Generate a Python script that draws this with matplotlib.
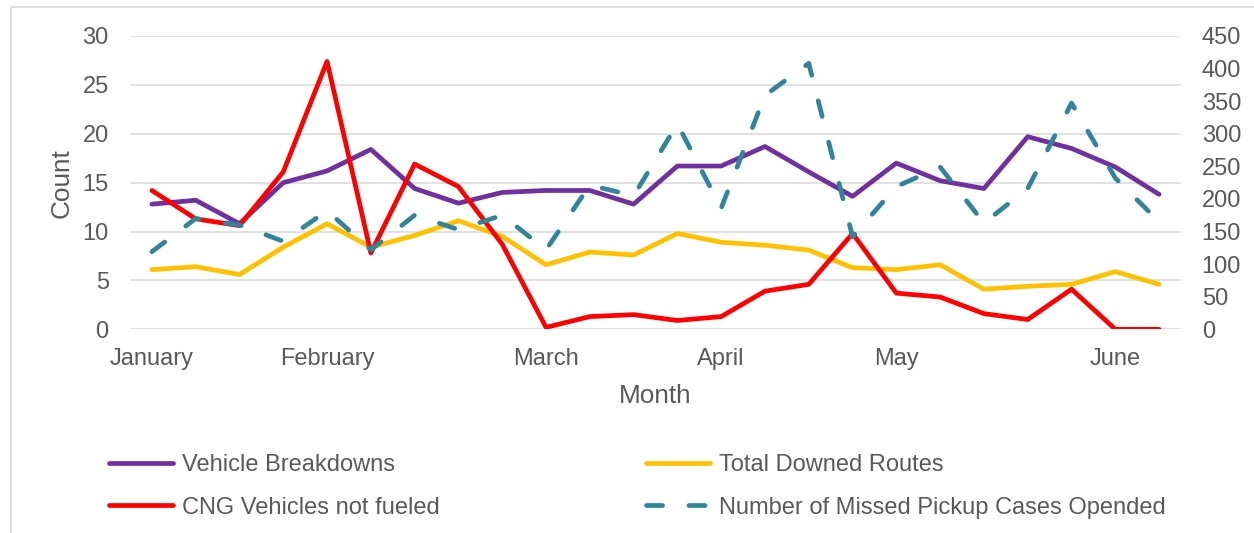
import matplotlib
matplotlib.use('Agg')
import matplotlib.pyplot as plt
from matplotlib.patches import Rectangle

plt.rcParams['font.family'] = ['Liberation Sans', 'DejaVu Sans']

# weekly points, month name on the first week of each month
week_labels = ['January', '', '', '', 'February', '', '', '', '', 'March', '', '', '',
               'April', '', '', '', 'May', '', '', '', '', 'June', '']

vehicle_breakdowns = [12.8, 13.2, 10.8, 15.0, 16.2, 18.4, 14.4, 12.9, 14.0, 14.2, 14.2, 12.8,
                      16.7, 16.7, 18.7, 16.1, 13.6, 17.0, 15.2, 14.4, 19.7, 18.5, 16.6, 13.8]
total_downed_routes = [6.1, 6.4, 5.6, 8.4, 10.8, 8.4, 9.6, 11.1, 9.5, 6.6, 7.9, 7.6,
                       9.8, 8.9, 8.6, 8.1, 6.3, 6.1, 6.6, 4.1, 4.4, 4.6, 5.9, 4.6]
cng_not_fueled = [14.2, 11.3, 10.6, 16.1, 27.4, 7.8, 16.9, 14.6, 8.7, 0.2, 1.3, 1.5,
                  0.9, 1.3, 3.9, 4.6, 9.8, 3.7, 3.3, 1.6, 1.0, 4.1, 0, 0]
missed_pickups = [119, 170, 160, 135, 182, 122, 175, 153, 175, 122, 221, 205,
                  315, 186, 359, 408, 142, 219, 249, 163, 216, 347, 232, 165]

TEXT = '#595959'
GRID = '#d9d9d9'
W, H = 1254, 533
LW = 3.4

fig = plt.figure(figsize=(W / 100, H / 100), dpi=100)
ax = fig.add_axes([130 / W, 1 - 329.3 / H, 1051 / W, 293.3 / H])
ax2 = ax.twinx()

x = list(range(len(week_labels)))
line_kw = dict(lw=LW, solid_capstyle='round', solid_joinstyle='round')
l1, = ax.plot(x, vehicle_breakdowns, color='#7030A0', **line_kw)
l2, = ax.plot(x, total_downed_routes, color='#FFC000', **line_kw)
l3, = ax.plot(x, cng_not_fueled, color='#FF0000', **line_kw)
l4, = ax2.plot(x, missed_pickups, color='#31849B', lw=LW, dashes=(3.4, 5.6),
               dash_capstyle='round', dash_joinstyle='round')

ax.set_xlim(-0.5, len(x) - 0.5)
ax.set_ylim(0, 30)
ax.set_yticks(range(0, 31, 5))
ax2.set_ylim(0, 450)
ax2.set_yticks(range(0, 451, 50))
ax.set_xticks(x, week_labels)

ax.yaxis.grid(True, color=GRID, lw=1.1)
ax.set_axisbelow(True)
for a in (ax, ax2):
    for s in a.spines.values():
        s.set_visible(False)
ax.tick_params(axis='y', length=0, pad=15.3, labelsize=17, labelcolor=TEXT)
ax.tick_params(axis='x', length=0, pad=13.7, labelsize=17, labelcolor=TEXT)
ax2.tick_params(axis='y', length=0, pad=14.9, labelsize=17, labelcolor=TEXT)

ax.set_xlabel('Month', fontsize=18.8, color=TEXT)
ax.xaxis.set_label_coords(0.5, -0.1865)
ax.set_ylabel('Count', fontsize=18.8, color=TEXT)
ax.yaxis.set_label_coords(-0.0538, 0.5)

leg_kw = dict(loc='upper left', frameon=False, fontsize=17, handlelength=2.75,
              handletextpad=0.38, labelspacing=0.87, borderpad=0, borderaxespad=0,
              labelcolor=TEXT)
fig.legend([l1, l3], ['Vehicle Breakdowns', 'CNG Vehicles not fueled'],
           bbox_to_anchor=(108.5 / W, 1 - 454 / H), **leg_kw)
fig.legend([l2, l4], ['Total Downed Routes', 'Number of Missed Pickup Cases Opended'],
           bbox_to_anchor=(645.5 / W, 1 - 454 / H), **leg_kw)

# chart frame, only top and left edges fall inside the picture
fig.patches.append(Rectangle((11 / W, -0.5), 2, 1.5 - 7.3 / H, transform=fig.transFigure,
                             fill=False, edgecolor=GRID, lw=1.2))

fig.savefig('out.png', dpi=100)
